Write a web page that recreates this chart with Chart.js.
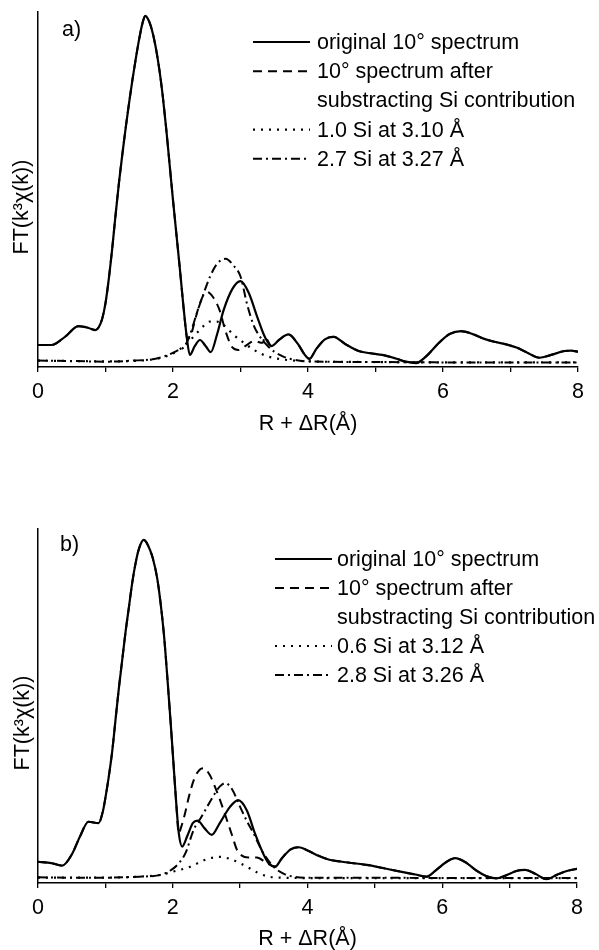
<!DOCTYPE html>
<html>
<head>
<meta charset="utf-8">
<script src="https://cdn.jsdelivr.net/npm/chart.js@4.4.1/dist/chart.umd.min.js"></script>
<style>
  body { margin: 0; background: #fff; }
  canvas { display: block; }
</style>
</head>
<body>
<canvas id="panelA" width="599" height="475"></canvas>
<canvas id="panelB" width="599" height="475"></canvas>
<script>
/* =========================================================
   DATA  (R + dR in Angstrom, FT magnitude in arbitrary units)
========================================================= */
const X_TICKS = [0, 2, 4, 6, 8];
const X_TITLE = "R + \u0394R(\u00c5)";
const Y_TITLE = "FT(k\u00b3\u03c7(k))";

// panel a
const R_A_ORIG = [0, 0.2, 0.4, 0.6, 0.75, 0.85, 0.9, 0.95, 1.0, 1.05, 1.1, 1.15, 1.2, 1.25, 1.3, 1.35, 1.4, 1.45, 1.5, 1.55, 1.59, 1.63, 1.68, 1.74, 1.8, 1.85, 1.9, 1.95, 2.0, 2.05, 2.1, 2.15, 2.2, 2.25, 2.32, 2.4, 2.48, 2.56, 2.65, 2.75, 2.88, 3.0, 3.12, 3.25, 3.36, 3.46, 3.58, 3.71, 3.85, 3.95, 4.02, 4.12, 4.25, 4.38, 4.55, 4.75, 4.95, 5.1, 5.3, 5.45, 5.6, 5.75, 5.95, 6.1, 6.27, 6.45, 6.6, 6.76, 6.95, 7.1, 7.25, 7.43, 7.6, 7.8, 7.9, 8.0];
const FT_A_ORIG = [6.2, 6.2, 8.5, 11.5, 11.0, 10.4, 11.2, 13.5, 18, 25, 33.5, 43, 52, 60, 67.5, 74.5, 81, 87, 92.5, 97, 98.9, 98, 95.5, 90.5, 83.5, 76, 67, 57, 47, 37.5, 28, 18, 9, 3.4, 5.8, 7.6, 6, 4.2, 9, 16, 22, 24.2, 21, 14, 8.5, 5.9, 7.8, 9.2, 6.5, 3.5, 2.3, 5, 7.8, 8.5, 6.5, 4.5, 3.8, 3.4, 2.4, 1.5, 1.1, 3, 7, 9.3, 10.1, 9.2, 8, 7.1, 6.3, 5.4, 4, 2.6, 3.4, 4.5, 4.6, 4.3];
// part of the subtracted spectrum that differs from the original
const R_A_SUB = [2.21, 2.26, 2.3, 2.4, 2.5, 2.6, 2.69, 2.78, 2.88, 2.97, 3.08, 3.2, 3.33];
const FT_A_SUB = [8, 8.6, 11.3, 18, 21.2, 19.5, 16, 10, 5.5, 4.8, 6, 7.3, 6.8];
const R_A_SI1 = [0, 1.0, 1.5, 1.8, 2.0, 2.2, 2.35, 2.45, 2.55, 2.65, 2.75, 2.9, 3.05, 3.2, 3.4, 3.6, 3.8, 4.2, 5, 6, 7, 8];
const FT_A_SI1 = [1.8, 1.6, 1.8, 2.5, 3.8, 6.5, 9.5, 11.5, 12.8, 12.8, 11.8, 9, 6.8, 4.8, 3, 2.2, 1.8, 1.5, 1.4, 1.3, 1.3, 1.3];
const R_A_SI2 = [0, 0.5, 1.0, 1.4, 1.7, 1.9, 2.05, 2.17, 2.25, 2.35, 2.45, 2.55, 2.65, 2.78, 2.9, 3.0, 3.1, 3.2, 3.3, 3.4, 3.5, 3.65, 3.8, 4.0, 5.0, 6.0, 7.0, 8.0];
const FT_A_SI2 = [1.8, 1.7, 1.5, 1.8, 2.2, 3.2, 4.5, 5.8, 9, 15, 20.5, 25.5, 29, 30.5, 28.5, 25.5, 17.5, 11.5, 8.2, 6, 4.3, 2.8, 2, 1.6, 1.4, 1.3, 1.3, 1.3];
const LEGEND_A = [
  ["original 10\u00b0 spectrum"],
  ["10\u00b0 spectrum after", "substracting Si contribution"],
  ["1.0 Si at 3.10 \u00c5"],
  ["2.7 Si at 3.27 \u00c5"]
];

// panel b
const R_B_ORIG = [0, 0.2, 0.36, 0.5, 0.62, 0.75, 0.9, 0.96, 1.0, 1.05, 1.1, 1.15, 1.2, 1.25, 1.3, 1.35, 1.4, 1.45, 1.5, 1.57, 1.63, 1.7, 1.77, 1.82, 1.87, 1.92, 1.97, 2.01, 2.05, 2.09, 2.14, 2.22, 2.3, 2.37, 2.47, 2.58, 2.7, 2.85, 2.97, 3.1, 3.22, 3.35, 3.44, 3.52, 3.62, 3.75, 3.87, 4.0, 4.15, 4.3, 4.6, 4.88, 5.1, 5.38, 5.6, 5.77, 5.9, 6.05, 6.19, 6.35, 6.5, 6.65, 6.81, 6.95, 7.1, 7.23, 7.38, 7.55, 7.7, 7.85, 8.0];
const FT_B_ORIG = [6.0, 5.6, 4.9, 8, 13, 17.3, 16.9, 20, 24, 30, 37, 46, 55, 63, 71, 78, 85, 90.5, 94.5, 96.9, 95.5, 92, 86, 79, 70, 58, 45, 34, 23, 14, 10.3, 13.5, 17, 17.6, 15.5, 13.6, 17, 21.5, 23.4, 20.5, 14, 8, 5.2, 4.6, 7, 9.5, 10.1, 9.2, 7.8, 6.7, 5.8, 5.1, 4.3, 3.2, 2.4, 1.8, 3.5, 5.8, 7.0, 5.8, 3.6, 2.0, 1.3, 2.2, 3.4, 3.7, 2.6, 1.1, 2.3, 3.4, 4.0];
const R_B_SUB = [2.12, 2.18, 2.24, 2.32, 2.4, 2.46, 2.55, 2.63, 2.71, 2.8, 2.88, 2.95, 3.02, 3.12, 3.25, 3.38];
const FT_B_SUB = [15.5, 19.5, 24.4, 29.5, 32, 32.4, 30.5, 27, 23, 18, 13.5, 9.5, 7.8, 7.2, 7.2, 5.8];
const R_B_SI1 = [0, 1.0, 1.5, 1.82, 2.0, 2.26, 2.45, 2.6, 2.7, 2.85, 3.0, 3.1, 3.25, 3.4, 3.6, 4.0, 5, 6, 7, 8];
const FT_B_SI1 = [1.5, 1.5, 1.8, 2.3, 3.2, 4.6, 6.3, 7.2, 7.4, 6.8, 5.6, 4.6, 3.0, 1.9, 1.5, 1.4, 1.4, 1.4, 1.4, 1.4];
const R_B_SI2 = [0, 0.5, 1.0, 1.5, 1.82, 2.0, 2.1, 2.19, 2.31, 2.42, 2.51, 2.6, 2.7, 2.78, 2.88, 3.0, 3.1, 3.2, 3.3, 3.38, 3.5, 3.65, 3.79, 4.0, 5, 6, 7, 8];
const FT_B_SI2 = [1.6, 1.5, 1.5, 1.8, 2.3, 4, 5.8, 8.5, 15, 18.5, 21.5, 24.5, 27.3, 28.2, 26.5, 21.5, 17.5, 14, 10, 7.4, 4.5, 2.6, 1.8, 1.5, 1.5, 1.4, 1.4, 1.4];
const LEGEND_B = [
  ["original 10\u00b0 spectrum"],
  ["10\u00b0 spectrum after", "substracting Si contribution"],
  ["0.6 Si at 3.12 \u00c5"],
  ["2.8 Si at 3.26 \u00c5"]
];

/* =========================================================
   HELPERS
========================================================= */
const FONT_FAMILY = '"Liberation Sans", Arial, sans-serif';
const FONT = "21.5px " + FONT_FAMILY;

function pts(xs, ys) {
  return xs.map((x, i) => ({ x: x, y: ys[i] }));
}

// original curve with the differing segment swapped in
function spliced(xs, ys, segX, segY) {
  const a = segX[0], b = segX[segX.length - 1];
  const before = pts(xs, ys).filter(p => p.x < a);
  const after = pts(xs, ys).filter(p => p.x > b);
  return before.concat(pts(segX, segY), after);
}

const STYLES = [
  { borderDash: [], borderWidth: 2.2 },
  { borderDash: [9, 6], borderWidth: 2 },
  { borderDash: [2, 6], borderWidth: 2.2 },
  { borderDash: [9, 4, 2, 4], borderWidth: 2 }
];

/* =========================================================
   TEXT + LEGEND PLUGIN
========================================================= */
const figText = {
  id: "figText",
  afterDraw(chart, args, o) {
    const ctx = chart.ctx;
    const area = chart.chartArea;
    ctx.save();
    ctx.fillStyle = "#000";
    ctx.font = FONT;
    ctx.textBaseline = "middle";

    ctx.textAlign = "left";
    ctx.fillText(o.panel, o.panelX, o.panelY);

    ctx.textAlign = "center";
    ctx.fillText(X_TITLE, (area.left + area.right) / 2, o.xTitleY);

    ctx.save();
    ctx.translate(o.yTitleX, o.yTitleY);
    ctx.rotate(-Math.PI / 2);
    ctx.fillText(Y_TITLE, 0, 0);
    ctx.restore();

    // legend
    ctx.textAlign = "left";
    let y = o.legY;
    chart.data.datasets.forEach((ds, i) => {
      ctx.save();
      ctx.strokeStyle = "#000";
      ctx.lineWidth = ds.borderWidth;
      ctx.setLineDash(ds.borderDash);
      ctx.beginPath();
      ctx.moveTo(o.legX, y);
      ctx.lineTo(o.legX + o.legLen, y);
      ctx.stroke();
      ctx.restore();
      o.labels[i].forEach(line => {
        ctx.fillText(line, o.legTextX, y + 1);
        y += o.legRow;
      });
    });
    ctx.restore();
  }
};

/* =========================================================
   BUILD ONE PANEL
========================================================= */
function makePanel(id, series, cfg) {
  return new Chart(document.getElementById(id), {
    type: "line",
    data: {
      datasets: series.map((data, i) => ({
        data: data,
        borderColor: "#000",
        borderWidth: STYLES[i].borderWidth,
        borderDash: STYLES[i].borderDash,
        pointRadius: 0,
        fill: false,
        cubicInterpolationMode: "monotone"
      }))
    },
    options: {
      responsive: false,
      animation: false,
      events: [],
      layout: { padding: { top: cfg.top, right: cfg.right, bottom: 0, left: 0 } },
      plugins: {
        legend: { display: false },
        tooltip: { enabled: false },
        figText: cfg.text
      },
      scales: {
        x: {
          type: "linear",
          min: 0,
          max: 8,
          afterFit: s => { s.height = cfg.xHeight; },
          border: { display: true, color: "#000", width: 1.5 },
          grid: {
            display: true,
            drawOnChartArea: false,
            drawTicks: true,
            tickLength: 5,
            color: "#000",
            lineWidth: 1.3
          },
          ticks: {
            stepSize: 1,
            autoSkip: false,
            maxRotation: 0,
            padding: 7,
            color: "#000",
            font: { family: FONT_FAMILY, size: 21.5 },
            callback: v => (X_TICKS.includes(v) ? String(v) : "")
          }
        },
        y: {
          min: 0,
          max: 100,
          afterFit: s => { s.width = 38; },
          border: { display: true, color: "#000", width: 1.5 },
          grid: { display: false },
          ticks: { display: false }
        }
      }
    },
    plugins: [figText]
  });
}

/* =========================================================
   DRAW
========================================================= */
makePanel("panelA", [
  pts(R_A_ORIG, FT_A_ORIG),
  spliced(R_A_ORIG, FT_A_ORIG, R_A_SUB, FT_A_SUB),
  pts(R_A_SI1, FT_A_SI1),
  pts(R_A_SI2, FT_A_SI2)
], {
  top: 12, right: 21, xHeight: 108,
  text: {
    panel: "a)", panelX: 62, panelY: 30,
    xTitleY: 424, yTitleX: 22, yTitleY: 207,
    legX: 253, legLen: 57, legTextX: 317, legY: 42, legRow: 29.2,
    labels: LEGEND_A
  }
});

makePanel("panelB", [
  pts(R_B_ORIG, FT_B_ORIG),
  spliced(R_B_ORIG, FT_B_ORIG, R_B_SUB, FT_B_SUB),
  pts(R_B_SI1, FT_B_SI1),
  pts(R_B_SI2, FT_B_SI2)
], {
  top: 54, right: 22, xHeight: 67,
  text: {
    panel: "b)", panelX: 60, panelY: 70,
    xTitleY: 464, yTitleX: 23, yTitleY: 248,
    legX: 275, legLen: 57, legTextX: 337, legY: 84, legRow: 29,
    labels: LEGEND_B
  }
});
</script>
</body>
</html>
